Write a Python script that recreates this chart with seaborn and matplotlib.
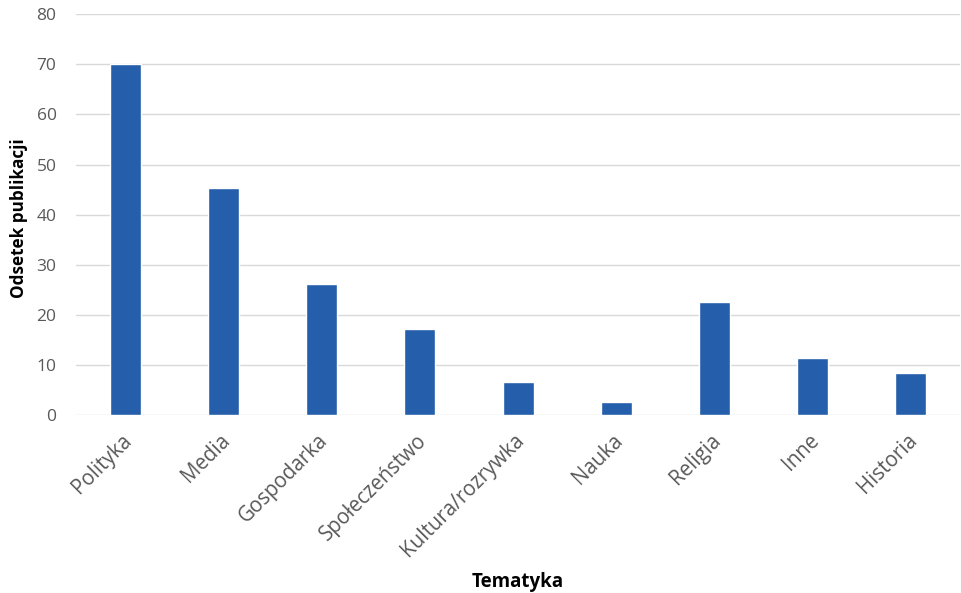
import matplotlib
matplotlib.use("Agg")
import matplotlib.pyplot as plt
import matplotlib.transforms as mtransforms
import seaborn as sns
import pandas as pd

categories = ["Polityka", "Media", "Gospodarka", "Społeczeństwo", "Kultura/rozrywka",
              "Nauka", "Religia", "Inne", "Historia"]
values = [70.0, 45.4, 26.1, 17.1, 6.7, 2.6, 22.5, 11.4, 8.4]
y_ticks = [0, 10, 20, 30, 40, 50, 60, 70, 80]

sns.set_theme(style="white")
plt.rcParams["font.family"] = ["Open Sans", "DejaVu Sans"]

df = pd.DataFrame({"Tematyka": categories, "Odsetek": values})

fig = plt.figure(figsize=(9.62, 5.93), dpi=100)
ax = fig.add_axes([0.079, 0.300, 0.919, 0.676])

sns.barplot(data=df, x="Tematyka", y="Odsetek", color="#255EAB", width=0.315,
            saturation=1, ax=ax, zorder=3)

ax.set_ylim(0, 80)
ax.set_xlim(-0.5, len(categories) - 0.5)
ax.set_yticks(y_ticks)
ax.grid(axis="y", color="#D9D9D9", linewidth=1.0, zorder=0)
ax.grid(axis="x", visible=False)
for s in ax.spines.values():
    s.set_visible(False)
ax.tick_params(axis="y", length=0, colors="#595959", labelsize=12.5, pad=14)
ax.tick_params(axis="x", length=0, colors="#595959", labelsize=14.8)

offset = mtransforms.ScaledTranslation(-0.04, -0.10, fig.dpi_scale_trans)
ax.set_xticks(range(len(categories)))
ax.set_xticklabels(categories, rotation=45, ha="right", rotation_mode="anchor")
for lbl in ax.get_xticklabels():
    lbl.set_transform(lbl.get_transform() + offset)

ax.set_ylabel("Odsetek publikacji", fontsize=12.3, fontweight="bold", color="#000000")
ax.set_xlabel("Tematyka", fontsize=13.5, fontweight="bold", color="#000000", va="center")
ax.xaxis.set_label_coords(0.5, -0.416)
ax.yaxis.set_label_coords(-0.054, 0.49)

fig.savefig("out.png", dpi=100, facecolor="white")
